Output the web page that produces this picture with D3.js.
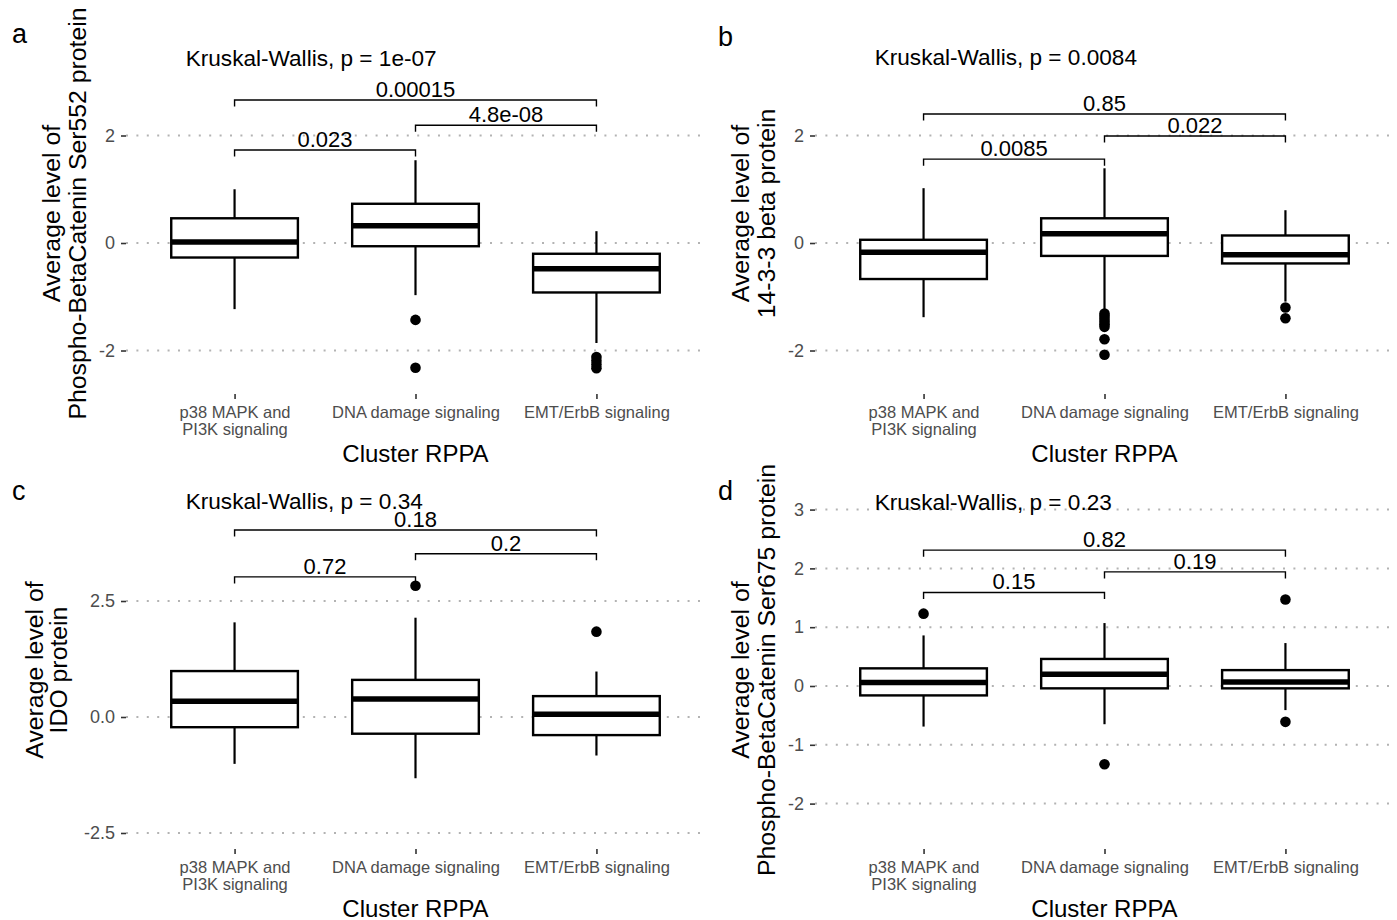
<!DOCTYPE html>
<html>
<head>
<meta charset="utf-8">
<script src="https://cdnjs.cloudflare.com/ajax/libs/d3/7.8.5/d3.min.js"></script>
<style>
  body { margin: 0; background: #fff; }
  svg text { font-family: "Liberation Sans", Arial, Helvetica, sans-serif; }
</style>
</head>
<body>
<div id="figure"></div>
<script>
// Categories shared by all four panels
var categories = ["p38 MAPK and\nPI3K signaling", "DNA damage signaling", "EMT/ErbB signaling"];
// pairwise comparisons, drawn top to bottom
var comparisons = [[0, 2], [1, 2], [0, 1]];

// Box summaries per category: [lower whisker, q1, median, q3, upper whisker]
var boxesA = [[-1.23, -0.27, 0.02, 0.46, 1.0], [-0.97, -0.06, 0.32, 0.73, 1.54], [-1.86, -0.92, -0.48, -0.2, 0.22]];
var outliersA = [[], [-1.43, -2.32], [-2.12, -2.19, -2.26, -2.33]];
var pValuesA = ["0.00015", "4.8e-08", "0.023"];
var bracketYA = [2.66, 2.19, 1.73];
var kruskalA = "Kruskal-Wallis, p = 1e-07";
var kruskalYA = 3.29;
var ticksA = [-2, 0, 2];
var yTitleA = ["Average level of", "Phospho-BetaCatenin Ser552 protein"];

var boxesB = [[-1.38, -0.67, -0.17, 0.06, 1.02], [-1.23, -0.24, 0.17, 0.46, 1.39], [-1.09, -0.38, -0.22, 0.14, 0.61]];
var outliersB = [[], [-1.31, -1.36, -1.41, -1.46, -1.51, -1.56, -1.79, -2.08], [-1.2, -1.4]];
var pValuesB = ["0.85", "0.022", "0.0085"];
var bracketYB = [2.4, 1.99, 1.56];
var kruskalB = "Kruskal-Wallis, p = 0.0084";
var kruskalYB = 3.31;
var ticksB = [-2, 0, 2];
var yTitleB = ["Average level of", "14-3-3 beta protein"];

var boxesC = [[-1.01, -0.22, 0.34, 0.99, 2.04], [-1.32, -0.36, 0.39, 0.8, 2.14], [-0.83, -0.39, 0.06, 0.45, 0.98]];
var outliersC = [[], [2.83], [1.84]];
var pValuesC = ["0.18", "0.2", "0.72"];
var bracketYC = [4.03, 3.52, 3.02];
var kruskalC = "Kruskal-Wallis, p = 0.34";
var kruskalYC = 4.48;
var ticksC = [-2.5, 0, 2.5];
var yTitleC = ["Average level of", "IDO protein"];

var boxesD = [[-0.69, -0.16, 0.06, 0.3, 0.86], [-0.65, -0.04, 0.2, 0.46, 1.07], [-0.41, -0.04, 0.07, 0.27, 0.73]];
var outliersD = [[1.23], [-1.33], [1.47, -0.61]];
var pValuesD = ["0.82", "0.19", "0.15"];
var bracketYD = [2.31, 1.94, 1.59];
var kruskalD = "Kruskal-Wallis, p = 0.23";
var kruskalYD = 2.99;
var ticksD = [-2, -1, 0, 1, 2, 3];
var yTitleD = ["Average level of", "Phospho-BetaCatenin Ser675 protein"];

var xTitle = "Cluster RPPA";

// plain hyphen for negative tick labels, as in the original figure
function hyphen(f) {
  return d => f(d).replace("\u2212", "-");
}

// Panel layout (pixels) and scale settings
var panels = [
  { letter: "a", boxes: boxesA, outliers: outliersA, pvals: pValuesA, bracketY: bracketYA,
    kw: kruskalA, kwY: kruskalYA, ticks: ticksA, yTitle: yTitleA, fmt: hyphen(d3.format("d")),
    left: 126, right: 705, top: 33, bottom: 394, yDomain: [-2.809, 3.907],
    titleOffsets: [66, 40], letterPos: [12, 43] },
  { letter: "b", boxes: boxesB, outliers: outliersB, pvals: pValuesB, bracketY: bracketYB,
    kw: kruskalB, kwY: kruskalYB, ticks: ticksB, yTitle: yTitleB, fmt: hyphen(d3.format("d")),
    left: 815, right: 1394, top: 33, bottom: 394, yDomain: [-2.809, 3.907],
    titleOffsets: [66, 40], letterPos: [718, 46] },
  { letter: "c", boxes: boxesC, outliers: outliersC, pvals: pValuesC, bracketY: bracketYC,
    kw: kruskalC, kwY: kruskalYC, ticks: ticksC, yTitle: yTitleC, fmt: hyphen(d3.format(".1f")),
    left: 126, right: 705, top: 491, bottom: 849, yDomain: [-2.845, 4.871],
    titleOffsets: [83, 59], letterPos: [12, 500] },
  { letter: "d", boxes: boxesD, outliers: outliersD, pvals: pValuesD, bracketY: bracketYD,
    kw: kruskalD, kwY: kruskalYD, ticks: ticksD, yTitle: yTitleD, fmt: hyphen(d3.format("d")),
    left: 815, right: 1394, top: 491, bottom: 849, yDomain: [-2.772, 3.316],
    titleOffsets: [66, 40], letterPos: [718, 500] }
];

var svg = d3.select("#figure")
  .append("svg")
  .attr("width", 1397)
  .attr("height", 920);

panels.forEach(function(p) {
  var g = svg.append("g");

  // Scales
  var x = d3.scalePoint()
    .domain(categories)
    .range([p.left, p.right])
    .padding(0.6);
  var y = d3.scaleLinear()
    .domain(p.yDomain)
    .range([p.bottom, p.top]);
  var boxW = x.step() * 0.7;

  // Dotted horizontal gridlines
  g.append("g")
    .selectAll("line")
    .data(p.ticks)
    .enter().append("line")
    .attr("x1", p.left)
    .attr("x2", p.right)
    .attr("y1", d => y(d))
    .attr("y2", d => y(d))
    .attr("stroke", "#b3b3b3")
    .attr("stroke-width", 2)
    .attr("stroke-dasharray", "2,8.4");

  // Left axis
  var leftAxis = d3.axisLeft(y)
    .tickValues(p.ticks)
    .tickFormat(p.fmt)
    .tickSize(5)
    .tickPadding(6);
  var yAxis = g.append("g")
    .attr("transform", `translate(${p.left}, 0)`)
    .call(leftAxis);
  yAxis.select(".domain").remove();
  yAxis.selectAll(".tick line").attr("stroke", "#333").attr("stroke-width", 1.6);
  yAxis.selectAll(".tick text").attr("fill", "#4d4d4d").style("font-size", "18px");

  // Bottom axis
  var bottomAxis = d3.axisBottom(x).tickSize(5);
  var xAxis = g.append("g")
    .attr("transform", `translate(0, ${p.bottom})`)
    .call(bottomAxis);
  xAxis.select(".domain").remove();
  xAxis.selectAll(".tick line").attr("stroke", "#333").attr("stroke-width", 1.6);
  xAxis.selectAll(".tick text").each(function(d) {
    var t = d3.select(this).text(null).attr("y", 0).attr("dy", null)
      .attr("fill", "#4d4d4d").style("font-size", "16.5px");
    d.split("\n").forEach(function(line, i) {
      t.append("tspan").attr("x", 0).attr("y", 24 + i * 17).text(line);
    });
  });

  // Boxplots
  var boxG = g.append("g")
    .selectAll("g")
    .data(p.boxes)
    .enter().append("g")
    .attr("transform", (d, i) => `translate(${x(categories[i])}, 0)`);

  boxG.append("line")
    .attr("y1", d => y(d[3])).attr("y2", d => y(d[4]))
    .attr("stroke", "#000").attr("stroke-width", 2.2);
  boxG.append("line")
    .attr("y1", d => y(d[1])).attr("y2", d => y(d[0]))
    .attr("stroke", "#000").attr("stroke-width", 2.2);
  boxG.append("rect")
    .attr("x", -boxW / 2)
    .attr("width", boxW)
    .attr("y", d => y(d[3]))
    .attr("height", d => y(d[1]) - y(d[3]))
    .attr("fill", "#fff")
    .attr("stroke", "#000")
    .attr("stroke-width", 2.4);
  boxG.append("line")
    .attr("x1", -boxW / 2).attr("x2", boxW / 2)
    .attr("y1", d => y(d[2])).attr("y2", d => y(d[2]))
    .attr("stroke", "#000").attr("stroke-width", 5.5);

  // Outlier points
  p.outliers.forEach(function(vals, i) {
    g.append("g")
      .selectAll("circle")
      .data(vals)
      .enter().append("circle")
      .attr("cx", x(categories[i]))
      .attr("cy", d => y(d))
      .attr("r", 5.3)
      .attr("fill", "#000");
  });

  // Comparison brackets
  var tip = 6.5;
  comparisons.forEach(function(pair, k) {
    var x1 = x(categories[pair[0]]);
    var x2 = x(categories[pair[1]]);
    var yb = y(p.bracketY[k]);
    g.append("path")
      .attr("d", `M${x1},${yb + tip}V${yb}H${x2}V${yb + tip}`)
      .attr("fill", "none")
      .attr("stroke", "#000")
      .attr("stroke-width", 1.4);
    g.append("text")
      .attr("x", (x1 + x2) / 2)
      .attr("y", yb - 3)
      .attr("text-anchor", "middle")
      .style("font-size", "22px")
      .text(p.pvals[k]);
  });

  // Kruskal-Wallis label
  g.append("text")
    .attr("x", x(categories[0]) - 0.27 * x.step())
    .attr("y", y(p.kwY))
    .style("font-size", "22.6px")
    .text(p.kw);

  // Axis titles
  var midY = (p.top + p.bottom) / 2;
  p.yTitle.forEach(function(line, i) {
    g.append("text")
      .attr("transform", `translate(${p.left - p.titleOffsets[i]}, ${midY}) rotate(-90)`)
      .attr("text-anchor", "middle")
      .style("font-size", "24.8px")
      .text(line);
  });
  g.append("text")
    .attr("x", (p.left + p.right) / 2)
    .attr("y", p.bottom + 68)
    .attr("text-anchor", "middle")
    .style("font-size", "24px")
    .text(xTitle);

  // Panel letter
  g.append("text")
    .attr("x", p.letterPos[0])
    .attr("y", p.letterPos[1])
    .style("font-size", "27px")
    .text(p.letter);
});
</script>
</body>
</html>
